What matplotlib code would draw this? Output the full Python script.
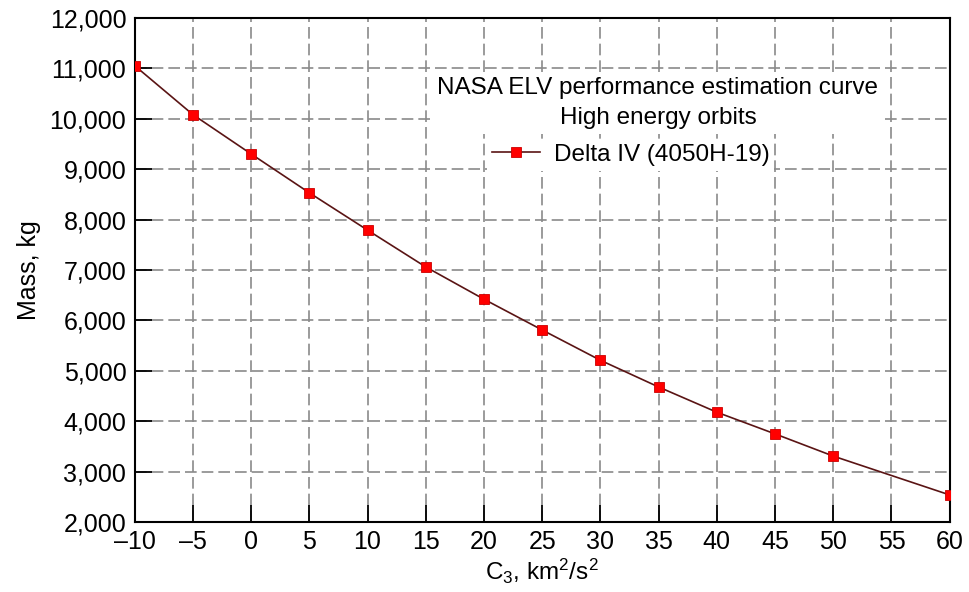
import matplotlib
matplotlib.use("Agg")
import matplotlib.pyplot as plt
from matplotlib.ticker import FuncFormatter

plt.rcParams['font.family'] = ['Liberation Sans', 'DejaVu Sans']
plt.rcParams['mathtext.fontset'] = 'custom'
plt.rcParams['mathtext.rm'] = 'Liberation Sans'
plt.rcParams['mathtext.it'] = 'Liberation Sans'

# C3 values (km^2/s^2) and payload mass (kg)
c3 = [-10, -5, 0, 5, 10, 15, 20, 25, 30, 35, 40, 45, 50, 60]
mass = [11050, 10080, 9300, 8530, 7790, 7060, 6420, 5810, 5210, 4680, 4180, 3750, 3310, 2540]

x_ticks = list(range(-10, 61, 5))
y_ticks = list(range(2000, 12001, 1000))


def thousands(v, pos):
    return f"{int(v):,}"


def minus_fmt(v, pos):
    return f"{int(v)}".replace("-", "\u2013")


fig = plt.figure(figsize=(9.69, 5.92), dpi=100)
ax = fig.add_axes([0.139, 0.118, 0.841, 0.852])

ax.plot(c3, mass, color="#5a1414", linewidth=1.2, marker="s", markersize=6.5,
        markerfacecolor="#ff0000", markeredgecolor="#cc0000", markeredgewidth=0.6,
        label="Delta IV (4050H-19)", zorder=3)

ax.set_xlim(-10, 60)
ax.set_ylim(2000, 12000)
ax.set_xticks(x_ticks)
ax.set_yticks(y_ticks)
ax.xaxis.set_major_formatter(FuncFormatter(minus_fmt))
ax.yaxis.set_major_formatter(FuncFormatter(thousands))
ax.tick_params(direction="in", length=12, width=1.3, labelsize=18, pad=6)

ax.grid(True, color="#8a8a8a", linestyle=(0, (7, 3)), linewidth=1.2)
ax.set_axisbelow(True)
for s in ax.spines.values():
    s.set_linewidth(1.5)

ax.set_xlabel("C$_3$, km$^2$/s$^2$", fontsize=17.5, labelpad=2)
ax.set_ylabel("Mass, kg", fontsize=18, labelpad=6)

# legend title block
ax.text(0.642, 0.831, "NASA ELV performance estimation curve\nHigh energy orbits",
        transform=ax.transAxes, ha="center", va="center", fontsize=17.5,
        linespacing=1.45, zorder=4,
        bbox=dict(facecolor="white", edgecolor="none", pad=4))

leg = ax.legend(loc="center left", bbox_to_anchor=(0.432, 0.728), fontsize=17.5,
                frameon=True, framealpha=1, edgecolor="none", fancybox=False,
                handlelength=2.0, handletextpad=0.55, borderpad=0.2,
                borderaxespad=0)
leg.get_frame().set_linewidth(0)

fig.savefig("out.png", dpi=100)
